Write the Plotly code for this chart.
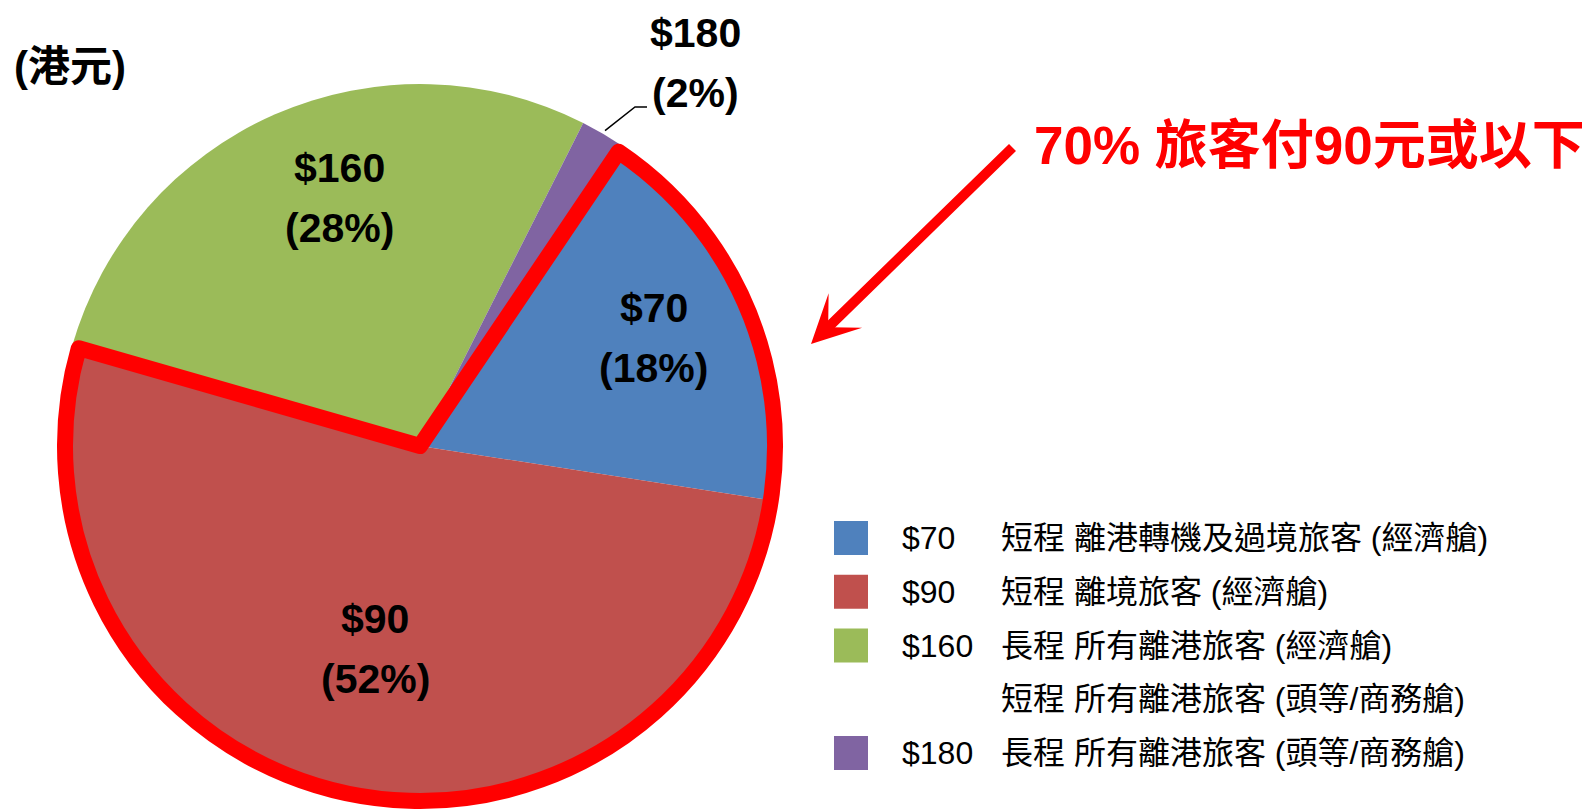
import math
import plotly.graph_objects as go

# ---------------- data ----------------
prices = ["$70", "$90", "$160", "$180"]
shares = [18, 52, 28, 2]
colors = ["#4F81BD", "#C0504D", "#9BBB59", "#8064A2"]
descriptions = [
    ["短程 離港轉機及過境旅客 (經濟艙)"],
    ["短程 離境旅客 (經濟艙)"],
    ["長程 所有離港旅客 (經濟艙)", "短程 所有離港旅客 (頭等/商務艙)"],
    ["長程 所有離港旅客 (頭等/商務艙)"],
]
highlight_n = 2            # first two slices (<= $90) highlighted
unit_label = "(港元)"
callout = "{}% 旅客付90元或以下"

# ---------------- layout constants ----------------
W, H = 1590, 809
OFF = 8                       # page body margin
CX, CY, R = 420, 446, 362     # pie centre / radius (screen px)
ROT = 34
FONT = "Liberation Sans, Arial, Noto Sans CJK TC, sans-serif"
label_rfrac = [0.712, 0.574, 0.72, None]
label_dang = [-1.2, 0.0, 5.5, 0.0]


def px(x, y):
    return (x - OFF) / W, 1 - (y - OFF) / H


def dom(r):
    cx, cy = CX - OFF, CY - OFF
    return dict(x=[(cx - r) / W, (cx + r) / W], y=[(H - cy - r) / H, (H - cy + r) / H])


fig = go.Figure()
fig.add_trace(go.Pie(
    values=shares, labels=prices, sort=False, direction="clockwise", rotation=ROT,
    marker=dict(colors=colors, line=dict(width=0)), textinfo="none",
    domain=dom(R), showlegend=False, hoverinfo="label+percent",
))

group_vals = [sum(shares[:highlight_n]), sum(shares[highlight_n:])]
fig.add_trace(go.Pie(
    values=group_vals, labels=["≤$90", "其他"], sort=False, direction="clockwise",
    rotation=ROT,
    marker=dict(colors=["rgba(0,0,0,0)", "rgba(0,0,0,0)"],
                line=dict(color=["#FF0000", "rgba(0,0,0,0)"], width=[16, 0])),
    textinfo="none", domain=dom(R - 7), showlegend=False, hoverinfo="skip",
))

annotations = []
shapes = []
total = sum(shares)
cum = 0
mids = []
for v in shares:
    mids.append(ROT + (cum + v / 2) / total * 360)
    cum += v

lab_font = dict(family=FONT, size=41, color="black", weight="bold")
for i, (p, v) in enumerate(zip(prices, shares)):
    f = label_rfrac[i]
    if f is None:
        continue
    a = math.radians(mids[i] + label_dang[i])
    x, y = px(CX + f * R * math.sin(a), CY - f * R * math.cos(a))
    annotations.append(dict(x=x, y=y, xref="paper", yref="paper", text=p, showarrow=False,
                            yshift=30, font=lab_font, xanchor="center", yanchor="middle"))
    annotations.append(dict(x=x, y=y, xref="paper", yref="paper", text=f"({v}%)",
                            showarrow=False, yshift=-30, font=lab_font,
                            xanchor="center", yanchor="middle"))

# small slice: outside label with leader line
a = math.radians(mids[3])
rx, ry = CX + 1.01 * R * math.sin(a), CY - 1.01 * R * math.cos(a)
ex, ey = 635, 107
p0, p1, p2 = px(rx, ry), px(ex, ey), px(ex + 12, ey)
shapes.append(dict(type="path", xref="paper", yref="paper",
                   path=f"M{p0[0]},{p0[1]} L{p1[0]},{p1[1]} L{p2[0]},{p2[1]}",
                   line=dict(color="black", width=1.5)))
lx, ly = px(695, 63)
annotations.append(dict(x=lx, y=ly, xref="paper", yref="paper", text=prices[3], showarrow=False,
                        yshift=30, font=lab_font, xanchor="center", yanchor="middle"))
annotations.append(dict(x=lx, y=ly, xref="paper", yref="paper", text=f"({shares[3]}%)",
                        showarrow=False, yshift=-30, font=lab_font,
                        xanchor="center", yanchor="middle"))

# unit label
ux, uy = px(12, 67)
annotations.append(dict(x=ux, y=uy, xref="paper", yref="paper", text=unit_label, showarrow=False,
                        xanchor="left", yanchor="middle",
                        font=dict(family=FONT, size=42, color="black", weight="bold")))

# callout text + arrow
tx, ty = px(1309, 146)
annotations.append(dict(x=tx, y=ty, xref="paper", yref="paper",
                        text=callout.format(sum(shares[:highlight_n])), showarrow=False,
                        xanchor="center", yanchor="middle",
                        font=dict(family=FONT, size=53, color="#FF0000", weight="bold")))
ax_, ay_ = px(811, 344)
annotations.append(dict(x=ax_, y=ay_, xref="paper", yref="paper", text="", showarrow=True,
                        ax=203, ay=-198, arrowhead=3, arrowwidth=10, arrowsize=0.8,
                        arrowcolor="#FF0000"))

# custom legend
leg_font = dict(family=FONT, size=32, color="black")
row_y = 538
step = 53.75
for i, p in enumerate(prices):
    ya, yb = px(0, row_y - 17)[1], px(0, row_y + 17)[1]
    shapes.append(dict(type="rect", xref="paper", yref="paper",
                       x0=px(834, 0)[0], x1=px(868, 0)[0], y0=yb, y1=ya,
                       fillcolor=colors[i], line=dict(width=0)))
    qx, qy = px(900, row_y)
    annotations.append(dict(x=qx, y=qy, xref="paper", yref="paper", text=p,
                            showarrow=False, xanchor="left", yanchor="middle", font=leg_font))
    for k, d in enumerate(descriptions[i]):
        dx_, dy_ = px(999, row_y + k * step)
        annotations.append(dict(x=dx_, y=dy_, xref="paper",
                                yref="paper", text=d, showarrow=False, xanchor="left",
                                yanchor="middle", font=leg_font))
    row_y += step * len(descriptions[i])

fig.update_layout(
    width=W, height=H, margin=dict(l=0, r=0, t=0, b=0),
    paper_bgcolor="white", plot_bgcolor="white",
    annotations=annotations, shapes=shapes, showlegend=False,
)
fig.write_html("out.html")
